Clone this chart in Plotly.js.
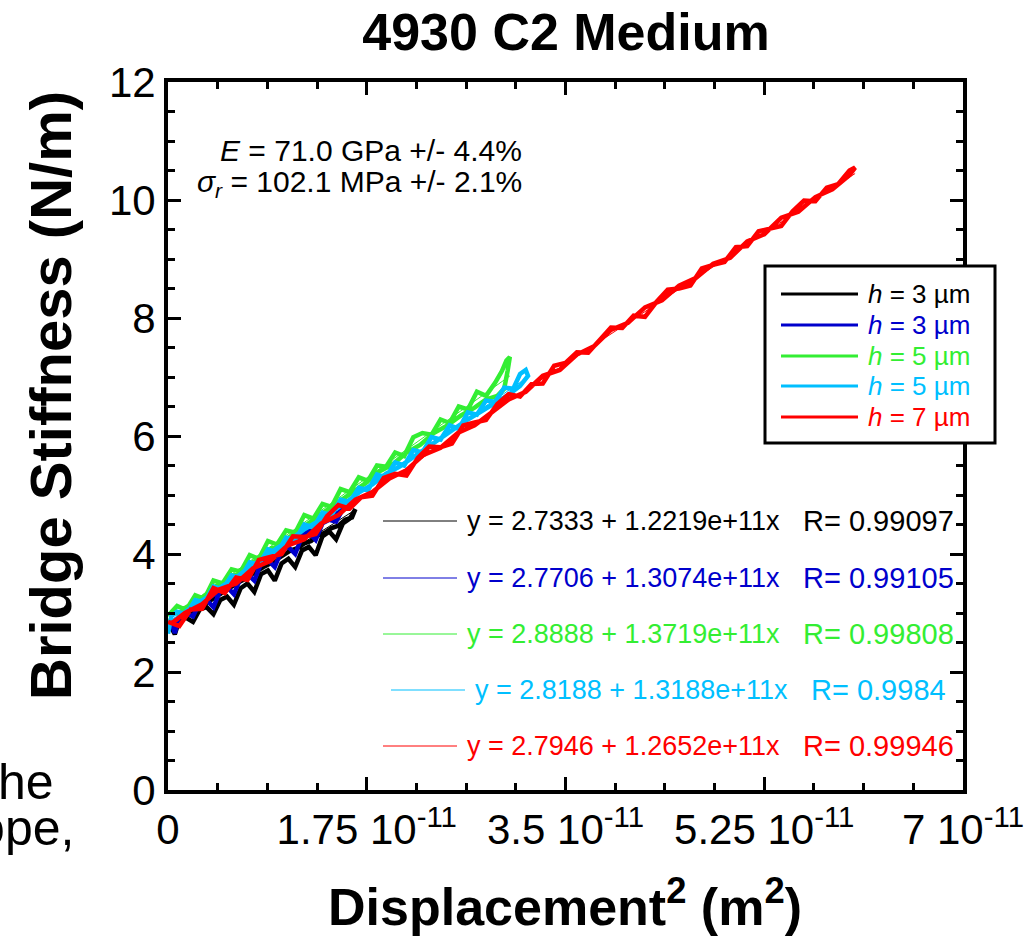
<!DOCTYPE html>
<html><head><meta charset="utf-8">
<script src="https://cdn.plot.ly/plotly-3.0.1.min.js"></script>
<style>html,body{margin:0;padding:0;background:#fff;overflow:hidden;}</style>
</head><body><div id="chart" style="width:1031px;height:936px;"></div>
<script>
// x values in units of 1e-11 m^2, y in N/m (loading then unloading pass)
const blackX = [0.02,0.06,0.10,0.16,0.22,0.28,0.34,0.40,0.46,0.52,0.58,0.64,0.70,0.76,0.82,0.88,0.94,1.00,1.06,1.12,1.18,1.24,1.30,1.36,1.42,1.48,1.54,1.60,1.65,1.62,1.56,1.50,1.44,1.38,1.32,1.26,1.20,1.14,1.08,1.02,0.96,0.90,0.84,0.78,0.72,0.66,0.60,0.54,0.48,0.42,0.36,0.30,0.24,0.18,0.12,0.06];
const blackY = [2.78,2.64,2.88,2.92,2.85,3.06,3.10,2.98,3.22,3.28,3.14,3.42,3.50,3.36,3.66,3.72,3.55,3.84,3.92,3.78,4.06,4.12,3.98,4.30,4.38,4.25,4.52,4.60,4.76,4.62,4.58,4.48,4.44,4.36,4.32,4.22,4.18,4.10,4.06,3.98,3.90,3.84,3.78,3.70,3.64,3.56,3.50,3.42,3.36,3.28,3.20,3.12,3.06,2.98,2.92,2.85];

const blueX = [0.02,0.06,0.10,0.16,0.22,0.28,0.34,0.40,0.46,0.52,0.58,0.64,0.70,0.76,0.82,0.88,0.94,1.00,1.06,1.12,1.18,1.24,1.30,1.36,1.42,1.48,1.55,1.50,1.42,1.34,1.26,1.18,1.10,1.02,0.94,0.86,0.78,0.70,0.62,0.54,0.46,0.38,0.30,0.22,0.14,0.06];
const blueY = [2.88,2.66,2.95,3.00,2.94,3.18,3.22,3.10,3.38,3.44,3.32,3.60,3.66,3.55,3.84,3.90,3.78,4.06,4.12,4.00,4.30,4.36,4.24,4.52,4.58,4.55,4.80,4.70,4.62,4.52,4.42,4.32,4.20,4.10,4.00,3.90,3.78,3.70,3.58,3.48,3.38,3.26,3.16,3.06,2.96,2.88];

const greenX = [0.00,0.08,0.16,0.24,0.32,0.40,0.48,0.56,0.64,0.72,0.80,0.88,0.96,1.04,1.12,1.20,1.28,1.36,1.44,1.52,1.60,1.68,1.76,1.84,1.92,2.00,2.08,2.16,2.24,2.32,2.40,2.48,2.56,2.64,2.72,2.80,2.88,2.94,2.98,3.01,2.99,2.96,2.90,2.80,2.70,2.58,2.46,2.34,2.22,2.10,1.98,1.86,1.74,1.62,1.50,1.38,1.26,1.14,1.02,0.90,0.78,0.66,0.54,0.42,0.30,0.18,0.06];
const greenY = [2.95,3.12,3.05,3.30,3.24,3.55,3.50,3.74,3.70,3.98,3.92,4.22,4.16,4.40,4.36,4.66,4.60,4.85,4.80,5.10,5.05,5.30,5.24,5.50,5.48,5.72,5.66,5.98,6.05,6.02,6.28,6.22,6.50,6.45,6.75,6.68,6.90,7.10,7.28,7.34,7.10,6.80,6.68,6.62,6.48,6.35,6.18,6.05,5.85,5.72,5.52,5.40,5.20,5.05,4.88,4.72,4.55,4.40,4.22,4.08,3.90,3.76,3.58,3.45,3.26,3.12,2.98];

const cyanX = [0.00,0.03,0.08,0.16,0.24,0.32,0.40,0.48,0.56,0.64,0.72,0.80,0.88,0.96,1.04,1.12,1.20,1.28,1.36,1.44,1.52,1.60,1.68,1.76,1.84,1.92,2.00,2.08,2.16,2.24,2.32,2.40,2.48,2.56,2.64,2.72,2.80,2.88,2.96,3.04,3.10,3.15,3.17,3.10,3.00,2.88,2.76,2.64,2.52,2.40,2.28,2.16,2.04,1.92,1.80,1.68,1.56,1.44,1.32,1.20,1.08,0.96,0.84,0.72,0.60,0.48,0.36,0.24,0.12,0.04];
const cyanY = [2.65,2.95,3.02,2.98,3.22,3.18,3.45,3.40,3.64,3.60,3.86,3.82,4.08,4.02,4.28,4.24,4.50,4.45,4.70,4.66,4.92,4.88,5.12,5.08,5.35,5.30,5.55,5.50,5.76,5.72,5.98,5.94,6.18,6.12,6.40,6.36,6.60,6.58,6.82,6.80,7.05,7.12,7.02,6.85,6.70,6.55,6.42,6.28,6.12,5.98,5.80,5.66,5.48,5.36,5.18,5.04,4.86,4.72,4.55,4.42,4.24,4.10,3.92,3.78,3.60,3.46,3.28,3.15,2.98,2.85];

const redX = [0.0,0.1,0.2,0.3,0.4,0.5,0.6,0.7,0.8,0.9,1.0,1.1,1.2,1.3,1.4,1.5,1.6,1.7,1.8,1.9,2.0,2.1,2.2,2.3,2.4,2.5,2.6,2.7,2.8,2.9,3.0,3.1,3.2,3.3,3.4,3.5,3.6,3.7,3.8,3.9,4.0,4.1,4.2,4.3,4.4,4.5,4.6,4.7,4.8,4.9,5.0,5.1,5.2,5.3,5.4,5.5,5.6,5.7,5.8,5.9,6.0,6.05,6.00,5.85,5.70,5.55,5.40,5.25,5.10,4.95,4.80,4.65,4.50,4.35,4.20,4.05,3.90,3.75,3.60,3.45,3.30,3.15,3.00,2.85,2.70,2.55,2.40,2.25,2.10,1.95,1.80,1.65,1.50,1.35,1.20,1.05,0.90,0.75,0.60,0.45,0.30,0.15,0.03];
const redY = [2.85,2.78,3.06,3.07,3.42,3.34,3.60,3.56,3.90,3.95,4.00,4.30,4.29,4.34,4.64,4.83,4.77,4.96,4.99,5.29,5.36,5.33,5.63,5.82,5.81,5.87,6.18,6.23,6.27,6.54,6.71,6.67,6.88,6.89,7.19,7.24,7.42,7.41,7.62,7.84,7.83,8.04,8.02,8.27,8.48,8.50,8.55,8.84,8.90,8.95,9.20,9.22,9.47,9.52,9.56,9.81,9.99,9.98,10.21,10.27,10.50,10.55,10.42,10.18,10.05,9.80,9.70,9.42,9.30,9.02,8.92,8.68,8.55,8.30,8.18,7.92,7.80,7.52,7.38,7.12,7.02,6.75,6.62,6.40,6.18,6.05,5.80,5.68,5.42,5.28,5.05,4.92,4.66,4.52,4.25,4.14,3.88,3.76,3.50,3.40,3.15,3.00,2.82];

const seriesX = [blackX, blueX, greenX, cyanX, redX];
const seriesY = [blackY, blueY, greenY, cyanY, redY];
const seriesLabels = ['<i>h</i> = 3 µm','<i>h</i> = 3 µm','<i>h</i> = 5 µm','<i>h</i> = 5 µm','<i>h</i> = 7 µm'];
const seriesColors = ['#000000','#0000CC','#33EE33','#00BFFF','#FF0000'];
const fitIntercepts = [2.7333, 2.7706, 2.8888, 2.8188, 2.7946];
const fitSlopesE11 = [1.2219, 1.3074, 1.3719, 1.3188, 1.2652];
const fitR = ['0.99097','0.99105','0.99808','0.9984','0.99946'];
const fitLabels = ['y = 2.7333 + 1.2219e+11x','y = 2.7706 + 1.3074e+11x','y = 2.8888 + 1.3719e+11x','y = 2.8188 + 1.3188e+11x','y = 2.7946 + 1.2652e+11x'];
const xTickVals = [0, 1.75, 3.5, 5.25, 7];
const xTickText = ['0','1.75 10<sup>-11</sup>','3.5 10<sup>-11</sup>','5.25 10<sup>-11</sup>','7 10<sup>-11</sup>'];
const yTickVals = [0, 2, 4, 6, 8, 10, 12];
const titleText = '4930 C2 Medium';
const xTitle = 'Displacement<sup>2</sup> (m<sup>2</sup>)';
const yTitle = 'Bridge Stiffness (N/m)';
const statLines = ['<i>E</i> = 71.0 GPa +/- 4.4%', '<i>σ</i><sub><i>r</i></sub> = 102.1 MPa +/- 2.1%'];

// plot area in pixels
const L = 168, R = 963, T = 82, B = 790;
const px = v => (v - L) / (R - L);
const py = v => (B - v) / (B - T);
const FONT = 'Liberation Sans, Arial, Helvetica, sans-serif';

const traces = [];
// fit lines (thin), drawn under data
for (let i = 0; i < 5; i++) {
  const xs = seriesX[i];
  const x0 = Math.min(...xs), x1 = Math.max(...xs);
  traces.push({x: [x0, x1], y: [fitIntercepts[i] + fitSlopesE11[i] * x0, fitIntercepts[i] + fitSlopesE11[i] * x1],
    mode: 'lines', line: {color: seriesColors[i], width: 1}, showlegend: false, hoverinfo: 'skip'});
}
for (let i = 0; i < 5; i++) {
  traces.push({x: seriesX[i], y: seriesY[i], mode: 'lines', name: seriesLabels[i],
    line: {color: seriesColors[i], width: 4.5}, showlegend: false});
}

const shapes = [];
const annotations = [];
// custom legend box
shapes.push({type: 'rect', xref: 'paper', yref: 'paper', x0: px(765), x1: px(995), y0: py(266), y1: py(443),
  line: {color: '#000', width: 3}, fillcolor: '#fff', layer: 'above'});
const legRows = [294, 325, 356, 386, 417];
for (let i = 0; i < 5; i++) {
  shapes.push({type: 'line', xref: 'paper', yref: 'paper', x0: px(781), x1: px(858), y0: py(legRows[i]), y1: py(legRows[i]),
    line: {color: seriesColors[i], width: 3}, layer: 'above'});
  annotations.push({xref: 'paper', yref: 'paper', x: px(866), y: py(legRows[i]), xanchor: 'left', yanchor: 'middle',
    text: seriesLabels[i], showarrow: false, font: {family: FONT, size: 26, color: seriesColors[i]}});
}
// fit equation rows
const eqRows = [521, 578, 634, 690, 746];
const eqShift = [0, 0, 0, 8, 0];
for (let i = 0; i < 5; i++) {
  shapes.push({type: 'line', xref: 'paper', yref: 'paper', x0: px(383 + eqShift[i]), x1: px(457 + eqShift[i]), y0: py(eqRows[i]), y1: py(eqRows[i]),
    line: {color: seriesColors[i], width: 1}, layer: 'above'});
  annotations.push({xref: 'paper', yref: 'paper', x: px(465 + eqShift[i]), y: py(eqRows[i]), xanchor: 'left', yanchor: 'middle',
    text: fitLabels[i], showarrow: false, font: {family: FONT, size: 27, color: seriesColors[i]}});
  annotations.push({xref: 'paper', yref: 'paper', x: px(801 + eqShift[i]), y: py(eqRows[i]), xanchor: 'left', yanchor: 'middle',
    text: 'R= ' + fitR[i], showarrow: false, font: {family: FONT, size: 29, color: seriesColors[i]}});
}
// stats text
annotations.push({xref: 'paper', yref: 'paper', x: px(524), y: py(150), xanchor: 'right', yanchor: 'middle',
  text: statLines[0], showarrow: false, font: {family: FONT, size: 30, color: '#000'}});
annotations.push({xref: 'paper', yref: 'paper', x: px(524), y: py(184), xanchor: 'right', yanchor: 'middle',
  text: statLines[1], showarrow: false, font: {family: FONT, size: 30, color: '#000'}});
// y axis title
annotations.push({xref: 'paper', yref: 'paper', x: px(50), y: py(396), xanchor: 'center', yanchor: 'middle', textangle: -90,
  text: yTitle, showarrow: false, font: {family: FONT, size: 58, color: '#000', weight: 'bold'}});
// x axis title
annotations.push({xref: 'paper', yref: 'paper', x: px(565), y: py(903), xanchor: 'center', yanchor: 'middle',
  text: xTitle, showarrow: false, font: {family: FONT, size: 52, color: '#000', weight: 'bold'}});
// stray cut-off text at left edge
annotations.push({xref: 'paper', yref: 'paper', x: px(56), y: py(782), xanchor: 'right', yanchor: 'middle',
  text: 'the', showarrow: false, font: {family: FONT, size: 50, color: '#000'}});
annotations.push({xref: 'paper', yref: 'paper', x: px(76), y: py(828), xanchor: 'right', yanchor: 'middle',
  text: 'slope,', showarrow: false, font: {family: FONT, size: 50, color: '#000'}});

const axisCommon = {showgrid: false, zeroline: false, showline: true, linecolor: '#000', linewidth: 4,
  mirror: 'ticks', ticks: 'inside', ticklen: 13, tickwidth: 3, tickcolor: '#000',
  tickfont: {family: FONT, size: 42, color: '#000'}};

const layout = {
  width: 1031, height: 936,
  margin: {l: L, r: 1031 - R, t: T, b: 936 - B, pad: 0},
  paper_bgcolor: '#fff', plot_bgcolor: '#fff',
  showlegend: false,
  title: {text: titleText, x: px(566), xref: 'paper', xanchor: 'center', y: 1 - 32 / 936, yanchor: 'middle',
    font: {family: FONT, size: 52, color: '#000', weight: 'bold'}},
  xaxis: Object.assign({}, axisCommon, {range: [0, 7], tickmode: 'array', tickvals: xTickVals, ticktext: xTickText,
    minor: {tickmode: 'linear', tick0: 0, dtick: 0.4375, ticks: 'inside', ticklen: 7, tickwidth: 3, tickcolor: '#000'}}),
  yaxis: Object.assign({}, axisCommon, {range: [0, 12], tickmode: 'array', tickvals: yTickVals,
    minor: {tickmode: 'linear', tick0: 0, dtick: 0.5, ticks: 'inside', ticklen: 7, tickwidth: 3, tickcolor: '#000'}}),
  shapes: shapes,
  annotations: annotations
};

Plotly.newPlot('chart', traces, layout, {displayModeBar: false, staticPlot: true});
</script>
</body></html>
